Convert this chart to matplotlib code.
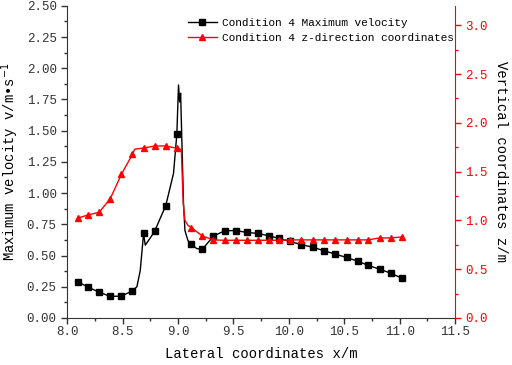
import numpy as np
import matplotlib
matplotlib.use("Agg")
import matplotlib.pyplot as plt
from matplotlib.ticker import MultipleLocator

plt.rcParams['font.family'] = ['Liberation Mono', 'DejaVu Sans']

# maximum velocity, marked points
vx = [8.10, 8.19, 8.29, 8.39, 8.49, 8.59, 8.69, 8.79, 8.89, 8.99,
      9.12, 9.22, 9.32, 9.42, 9.52, 9.62, 9.72, 9.82, 9.91, 10.01,
      10.11, 10.22, 10.32, 10.42, 10.52, 10.62, 10.71, 10.82, 10.92, 11.02]
vy = [0.289, 0.246, 0.206, 0.172, 0.175, 0.217, 0.677, 0.695, 0.900, 1.473,
      0.590, 0.550, 0.655, 0.698, 0.700, 0.685, 0.677, 0.658, 0.637, 0.613,
      0.588, 0.565, 0.537, 0.511, 0.484, 0.455, 0.423, 0.390, 0.358, 0.318]
# velocity curve incl. unmarked points (spikes, dips)
vlx = [8.10, 8.19, 8.29, 8.39, 8.49, 8.59, 8.63, 8.66, 8.69, 8.705, 8.75, 8.79,
       8.89, 8.96, 8.99, 9.005, 9.015, 9.024, 9.05, 9.063, 9.09, 9.12, 9.17,
       9.22, 9.32, 9.42, 9.52, 9.62, 9.72, 9.82, 9.91, 10.01, 10.11, 10.22,
       10.32, 10.42, 10.52, 10.62, 10.71, 10.82, 10.92, 11.02]
vly = [0.289, 0.246, 0.206, 0.172, 0.175, 0.217, 0.25, 0.38, 0.677, 0.583, 0.64, 0.695,
       0.900, 1.158, 1.473, 1.866, 1.73, 1.80, 0.917, 0.70, 0.62, 0.590, 0.555,
       0.550, 0.655, 0.698, 0.700, 0.685, 0.677, 0.658, 0.637, 0.613, 0.588, 0.565,
       0.537, 0.511, 0.484, 0.455, 0.423, 0.390, 0.358, 0.318]

# z-direction coordinates, marked points
zx = [8.10, 8.19, 8.29, 8.39, 8.49, 8.59, 8.69, 8.79, 8.89, 8.99,
      9.12, 9.22, 9.32, 9.42, 9.52, 9.62, 9.72, 9.82, 9.91, 10.01,
      10.11, 10.22, 10.32, 10.42, 10.52, 10.62, 10.71, 10.82, 10.92, 11.02]
zy = [1.025, 1.056, 1.083, 1.224, 1.473, 1.678, 1.742, 1.763, 1.763, 1.739,
      0.926, 0.840, 0.800, 0.796, 0.796, 0.796, 0.796, 0.796, 0.796, 0.800,
      0.800, 0.800, 0.800, 0.800, 0.800, 0.800, 0.800, 0.820, 0.820, 0.830]
zlx = [8.10, 8.19, 8.29, 8.39, 8.49, 8.59, 8.61, 8.69, 8.79, 8.89, 8.99, 9.03,
       9.048, 9.063, 9.09, 9.12, 9.22, 9.32, 9.42, 9.52, 9.62, 9.72, 9.82,
       9.91, 10.01, 10.11, 10.22, 10.32, 10.42, 10.52, 10.62, 10.71, 10.82,
       10.92, 11.02]
zly = [1.025, 1.056, 1.083, 1.224, 1.473, 1.678, 1.73, 1.742, 1.763, 1.763, 1.739, 1.726,
       1.17, 1.00, 0.95, 0.926, 0.840, 0.800, 0.796, 0.796, 0.796, 0.796, 0.796,
       0.796, 0.800, 0.800, 0.800, 0.800, 0.800, 0.800, 0.800, 0.800, 0.820,
       0.820, 0.830]

red = '#ff0000'

fig = plt.figure(figsize=(5.12, 3.65), dpi=100)
ax = fig.add_axes([0.131, 0.129, 0.758, 0.855])
ax2 = ax.twinx()

ax.plot(vlx, vly, color='k', lw=1.0)
ax.plot(vx, vy, ls='none', marker='s', ms=4.5, color='k')
ax2.plot(zlx, zly, color=red, lw=1.0)
ax2.plot(zx, zy, ls='none', marker='^', ms=5, color=red)

# legend handles
h1, = ax.plot([], [], color='k', lw=1.0, marker='s', ms=4.5)
h2, = ax.plot([], [], color=red, lw=1.0, marker='^', ms=5)
ax.legend([h1, h2], ['Condition 4 Maximum velocity',
                     'Condition 4 z-direction coordinates'],
          loc='upper left', bbox_to_anchor=(0.30, 0.975), frameon=False,
          fontsize=8, handlelength=2.6, handletextpad=0.45, labelspacing=0.45,
          borderaxespad=0)

ax.set_xlim(8.0, 11.5)
ax.set_ylim(0, 2.5)
ax2.set_ylim(0, 3.2)
ax.xaxis.set_major_locator(MultipleLocator(0.5))
ax.xaxis.set_minor_locator(MultipleLocator(0.25))
ax.yaxis.set_major_locator(MultipleLocator(0.25))
ax.yaxis.set_minor_locator(MultipleLocator(0.125))
ax2.yaxis.set_major_locator(MultipleLocator(0.5))
ax2.yaxis.set_minor_locator(MultipleLocator(0.25))

ax.xaxis.set_major_formatter(lambda v, p: f'{v:.1f}')
ax.yaxis.set_major_formatter(lambda v, p: f'{v:.2f}')
ax2.yaxis.set_major_formatter(lambda v, p: f'{v:.1f}')

for a in (ax, ax2):
    a.spines['top'].set_visible(False)
ax.spines['right'].set_visible(False)
ax2.spines['left'].set_visible(False)
ax2.spines['bottom'].set_visible(False)
ax2.spines['right'].set_color(red)
ax.spines['left'].set_color('#333333')
ax.spines['bottom'].set_color('#333333')

ax.tick_params(which='major', length=4, width=1, labelsize=9, colors='#333333')
ax.tick_params(axis='x', which='major', pad=2)
ax.tick_params(which='minor', length=2.5, width=1, colors='#333333')
ax2.tick_params(which='major', length=4, width=1, labelsize=9, colors=red)
ax2.tick_params(which='minor', length=2.5, width=1, colors=red)

ax.set_xlabel('Lateral coordinates x/m', fontsize=10, labelpad=6)
ax.set_ylabel('Maximum velocity v/m\u2022s$^{-1}$', fontsize=10)
ax2.set_ylabel('Vertical coordinates z/m', fontsize=10, rotation=270, labelpad=14)

fig.savefig('out.png', dpi=100)
